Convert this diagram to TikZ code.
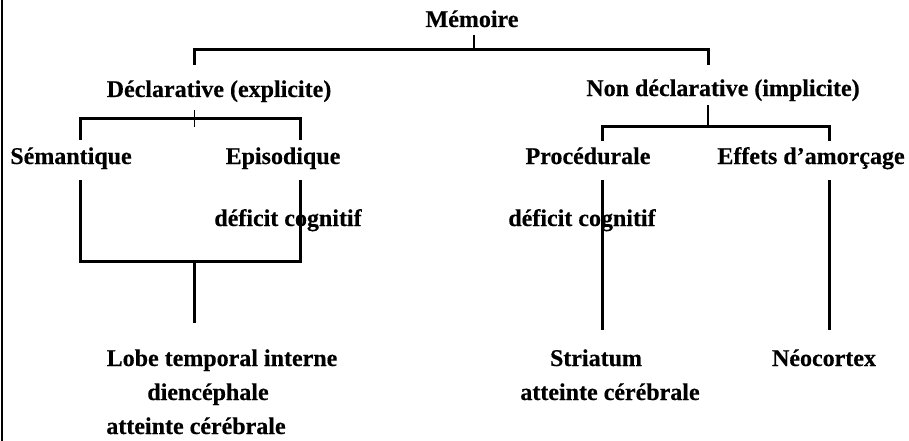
\documentclass[tikz,border=0pt]{standalone}
\usepackage{fontspec}
\setmainfont{Liberation Serif}
\newfontfamily\lblfont{Liberation Serif Bold}[FakeBold=0.35]
\begin{document}
\begin{tikzpicture}[x=1pt,y=-1pt,
  lbl/.style={inner sep=0pt,anchor=base,font=\lblfont\fontsize{24}{28}\selectfont},
  thick line/.style={line width=3pt},
  stem/.style={line width=2.2pt},
  thin tick/.style={line width=1pt},
  border/.style={line width=2pt}]
\useasboundingbox (0,0) rectangle (909,441);
% labels
\node[lbl] (mem) at (472,27) {Mémoire};
\node[lbl] (decl) at (219,97) {Déclarative (explicite)};
\node[lbl] (ndecl) at (723,96) {Non déclarative (implicite)};
\node[lbl] (sem) at (71,164) {Sémantique};
\node[lbl] (epi) at (283,164) {Episodique};
\node[lbl] (proc) at (588,164) {Procédurale};
\node[lbl] (eff) at (811,164) {Effets d’amorçage};
\node[lbl] (defl) at (288,226) {déficit cognitif};
\node[lbl] (defr) at (582,226) {déficit cognitif};
\node[lbl] (lobe) at (222,366) {Lobe temporal interne};
\node[lbl] (dien) at (208,400) {diencéphale};
\node[lbl] (attl) at (196,434) {atteinte cérébrale};
\node[lbl] (stri) at (596,366) {Striatum};
\node[lbl] (attr) at (610,400) {atteinte cérébrale};
\node[lbl] (neo) at (824,366) {Néocortex};
% junction coordinates
\coordinate (memA) at (474,35);
\coordinate (memB) at (474,50);
\coordinate (jL0) at (194,50);
\coordinate (jL1) at (194,65);
\coordinate (jR0) at (708,50);
\coordinate (jR1) at (708,65);
\coordinate (tA) at (194,110);
\coordinate (tB) at (194,127);
\coordinate (sA) at (80,140);
\coordinate (sB) at (80,118);
\coordinate (eB) at (300,118);
\coordinate (eA) at (300,140);
\coordinate (nA) at (708,105);
\coordinate (nB) at (708,126);
\coordinate (pA) at (602,141);
\coordinate (pB) at (602,126);
\coordinate (fB) at (829,126);
\coordinate (fA) at (829,141);
\coordinate (bx1) at (80,180);
\coordinate (bx2) at (80,261);
\coordinate (bx3) at (300,261);
\coordinate (bx4) at (300,180);
\coordinate (lA) at (194,261);
\coordinate (lB) at (194,323);
\coordinate (prA) at (602,180);
\coordinate (prB) at (602,330);
\coordinate (efA) at (829,180);
\coordinate (efB) at (829,330);
\coordinate (brT) at (2,0);
\coordinate (brB) at (2,441);
% connectors
\draw[border] (brT) -- (brB);
\draw[stem] (memA) -- (memB);
\draw[thick line] (jL1) -- (jL0) -- (jR0) -- (jR1);
\draw[thin tick] (tA) -- (tB);
\draw[thick line] (sA) -- (sB) -- (eB) -- (eA);
\draw[stem] (nA) -- (nB);
\draw[thick line] (pA) -- (pB) -- (fB) -- (fA);
\draw[thick line] (bx1) -- (bx2) -- (bx3) -- (bx4);
\draw[thick line] (lA) -- (lB);
\draw[thick line] (prA) -- (prB);
\draw[thick line] (efA) -- (efB);
\end{tikzpicture}
\end{document}
